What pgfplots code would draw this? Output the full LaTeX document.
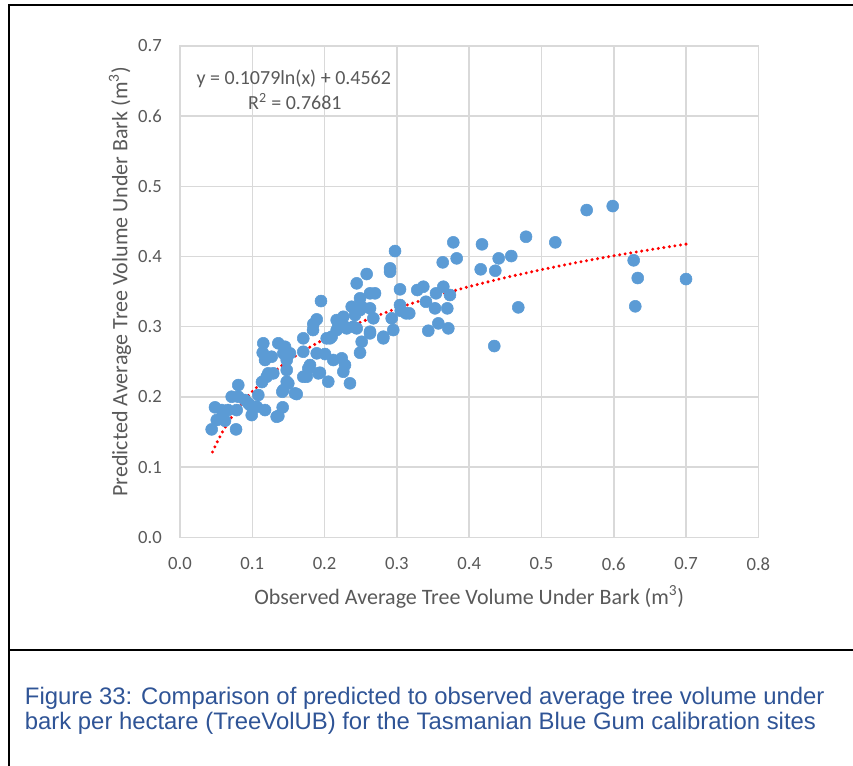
\documentclass[border=0pt]{standalone}
\usepackage{fontspec}
\setmainfont{Carlito}
\newfontfamily\arialfont{Liberation Sans}
\usepackage{pgfplots}
\pgfplotsset{compat=1.18}
\definecolor{txtgray}{HTML}{595959}
\definecolor{gridgray}{HTML}{D9D9D9}
\definecolor{ptblue}{HTML}{5B9BD5}
\definecolor{capblue}{HTML}{2F5496}
\pgfplotstableread{
x y
0.0438 0.1538
0.0484 0.1852
0.0508 0.1671
0.0577 0.1813
0.0622 0.1661
0.0664 0.1813
0.0715 0.2003
0.0806 0.2169
0.0775 0.1538
0.0806 0.2003
0.0784 0.1813
0.0899 0.1956
0.0945 0.1909
0.0992 0.1742
0.0968 0.1885
0.1061 0.1860
0.1176 0.1813
0.1083 0.2027
0.1134 0.2212
0.1199 0.2288
0.1221 0.2336
0.1290 0.2336
0.1360 0.1728
0.1337 0.1718
0.1420 0.1852
0.1429 0.2098
0.1415 0.2074
0.1498 0.2194
0.1476 0.2217
0.1614 0.2041
0.1591 0.2051
0.1476 0.2383
0.1152 0.2764
0.1144 0.2630
0.1176 0.2526
0.1360 0.2764
0.1452 0.2715
0.1268 0.2573
0.1476 0.2526
0.1429 0.2621
0.1521 0.2621
0.1705 0.2835
0.1705 0.2644
0.1798 0.2454
0.1705 0.2288
0.1775 0.2407
0.1752 0.2288
0.1936 0.2345
0.1913 0.2336
0.2051 0.2217
0.1891 0.2621
0.2006 0.2611
0.2120 0.2526
0.2237 0.2550
0.2282 0.2454
0.2259 0.2359
0.2351 0.2194
0.2513 0.2786
0.2490 0.2630
0.2628 0.2906
0.2812 0.2858
0.2950 0.2953
0.2098 0.2858
0.2075 0.2835
0.2029 0.2835
0.1840 0.2953
0.1844 0.3038
0.1891 0.3105
0.1950 0.3366
0.2167 0.3095
0.2213 0.3071
0.2190 0.3000
0.2167 0.2953
0.2259 0.3142
0.2282 0.3000
0.2306 0.2977
0.2397 0.3000
0.2444 0.2977
0.2421 0.3167
0.2375 0.3285
0.2513 0.3285
0.2444 0.3618
0.2490 0.3405
0.2490 0.3238
0.2582 0.3751
0.2628 0.3476
0.2697 0.3476
0.2628 0.3262
0.2674 0.3120
0.2628 0.2929
0.2812 0.2835
0.2905 0.3832
0.2905 0.3783
0.2974 0.4078
0.2928 0.3120
0.3043 0.3533
0.3043 0.3309
0.3053 0.3228
0.3126 0.3191
0.3171 0.3191
0.3282 0.3523
0.3365 0.3570
0.3402 0.3356
0.3527 0.3262
0.3573 0.3048
0.3434 0.2943
0.3541 0.3476
0.3642 0.3570
0.3711 0.2977
0.3697 0.3262
0.3734 0.3452
0.3634 0.3917
0.3780 0.4202
0.3827 0.3974
0.4177 0.4174
0.4159 0.3818
0.4361 0.3798
0.4408 0.3974
0.4582 0.4007
0.4786 0.4282
0.5191 0.4202
0.4679 0.3276
0.4347 0.2725
0.5625 0.4662
0.5985 0.4719
0.6275 0.3946
0.6331 0.3694
0.6297 0.3291
0.6999 0.3679
}\obsdata
\begin{document}
\begin{tikzpicture}
\useasboundingbox (0,0) rectangle (639.75pt,-574.5pt);
\draw[line width=1.5pt] (6.75pt,-574.5pt) -- (6.75pt,-3.75pt) -- (639.75pt,-3.75pt);
\draw[line width=1.5pt] (6.75pt,-487.5pt) -- (639.75pt,-487.5pt);
\begin{axis}[
  at={(135pt,-403pt)}, anchor=south west,
  scale only axis, width=433.8pt, height=368.55pt,
  xmin=0, xmax=0.8, ymin=0, ymax=0.7,
  xtick={0,0.1,0.2,0.3,0.4,0.5,0.6,0.7,0.8},
  ytick={0,0.1,0.2,0.3,0.4,0.5,0.6,0.7},
  grid=major, major grid style={gridgray, line width=1.1pt},
  axis line style={gridgray, line width=1.1pt},
  major tick length=0pt,
  /pgf/number format/fixed, /pgf/number format/fixed zerofill,
  /pgf/number format/precision=1, /pgf/number format/assume math mode=true,
  ticklabel style={font=\fontsize{14}{16}\selectfont, text=txtgray},
  yticklabel style={anchor=east, inner sep=0pt, xshift=-13.5pt},
  xticklabel style={anchor=north, inner sep=0pt, yshift=-15pt},
  xlabel={Observed Average Tree Volume Under Bark (m\textsuperscript{3})},
  ylabel={Predicted Average Tree Volume Under Bark (m\textsuperscript{3})},
  label style={font=\fontsize{16.5}{18}\selectfont, text=txtgray},
  xlabel style={at={(axis description cs:0.5,-0.1215)}, anchor=center},
  ylabel style={at={(axis description cs:-0.1037,0.52)}, anchor=center},
  clip=false,
]
\addplot[only marks, mark=*, mark size=4.5pt, mark options={fill=ptblue, draw=ptblue, line width=0.4pt}] table[x=x, y=y] {\obsdata};
\addplot[red, line width=2.5pt, dash pattern=on 0pt off 4.2pt, line cap=round, no marks] coordinates {
(0.045,0.1216) (0.05,0.1330) (0.06,0.1526) (0.07,0.1693) (0.08,0.1837) (0.09,0.1964)
(0.10,0.2078) (0.12,0.2274) (0.14,0.2441) (0.16,0.2585) (0.18,0.2712) (0.20,0.2825)
(0.25,0.3066) (0.30,0.3263) (0.35,0.3429) (0.40,0.3573) (0.45,0.3700) (0.50,0.3814)
(0.55,0.3917) (0.60,0.4011) (0.65,0.4097) (0.70,0.4177)};
\node[text=txtgray, font=\fontsize{15}{16}\selectfont, anchor=center] at (axis cs:0.1574,0.6538) {y = 0.1079ln(x) + 0.4562};
\node[text=txtgray, font=\fontsize{15}{16}\selectfont, anchor=center] at (axis cs:0.1589,0.6205) {R\textsuperscript{2} = 0.7681};
\end{axis}
\node[anchor=base west, inner sep=0pt, text=capblue, font=\arialfont\fontsize{17.9}{19}\selectfont] at (18.5pt,-528.2pt) {Figure 33: Comparison of predicted to observed average tree volume under};
\node[anchor=base west, inner sep=0pt, text=capblue, font=\arialfont\fontsize{17.9}{19}\selectfont] at (18.5pt,-547.2pt) {bark per hectare (TreeVolUB) for the Tasmanian Blue Gum calibration sites};
\end{tikzpicture}
\end{document}
